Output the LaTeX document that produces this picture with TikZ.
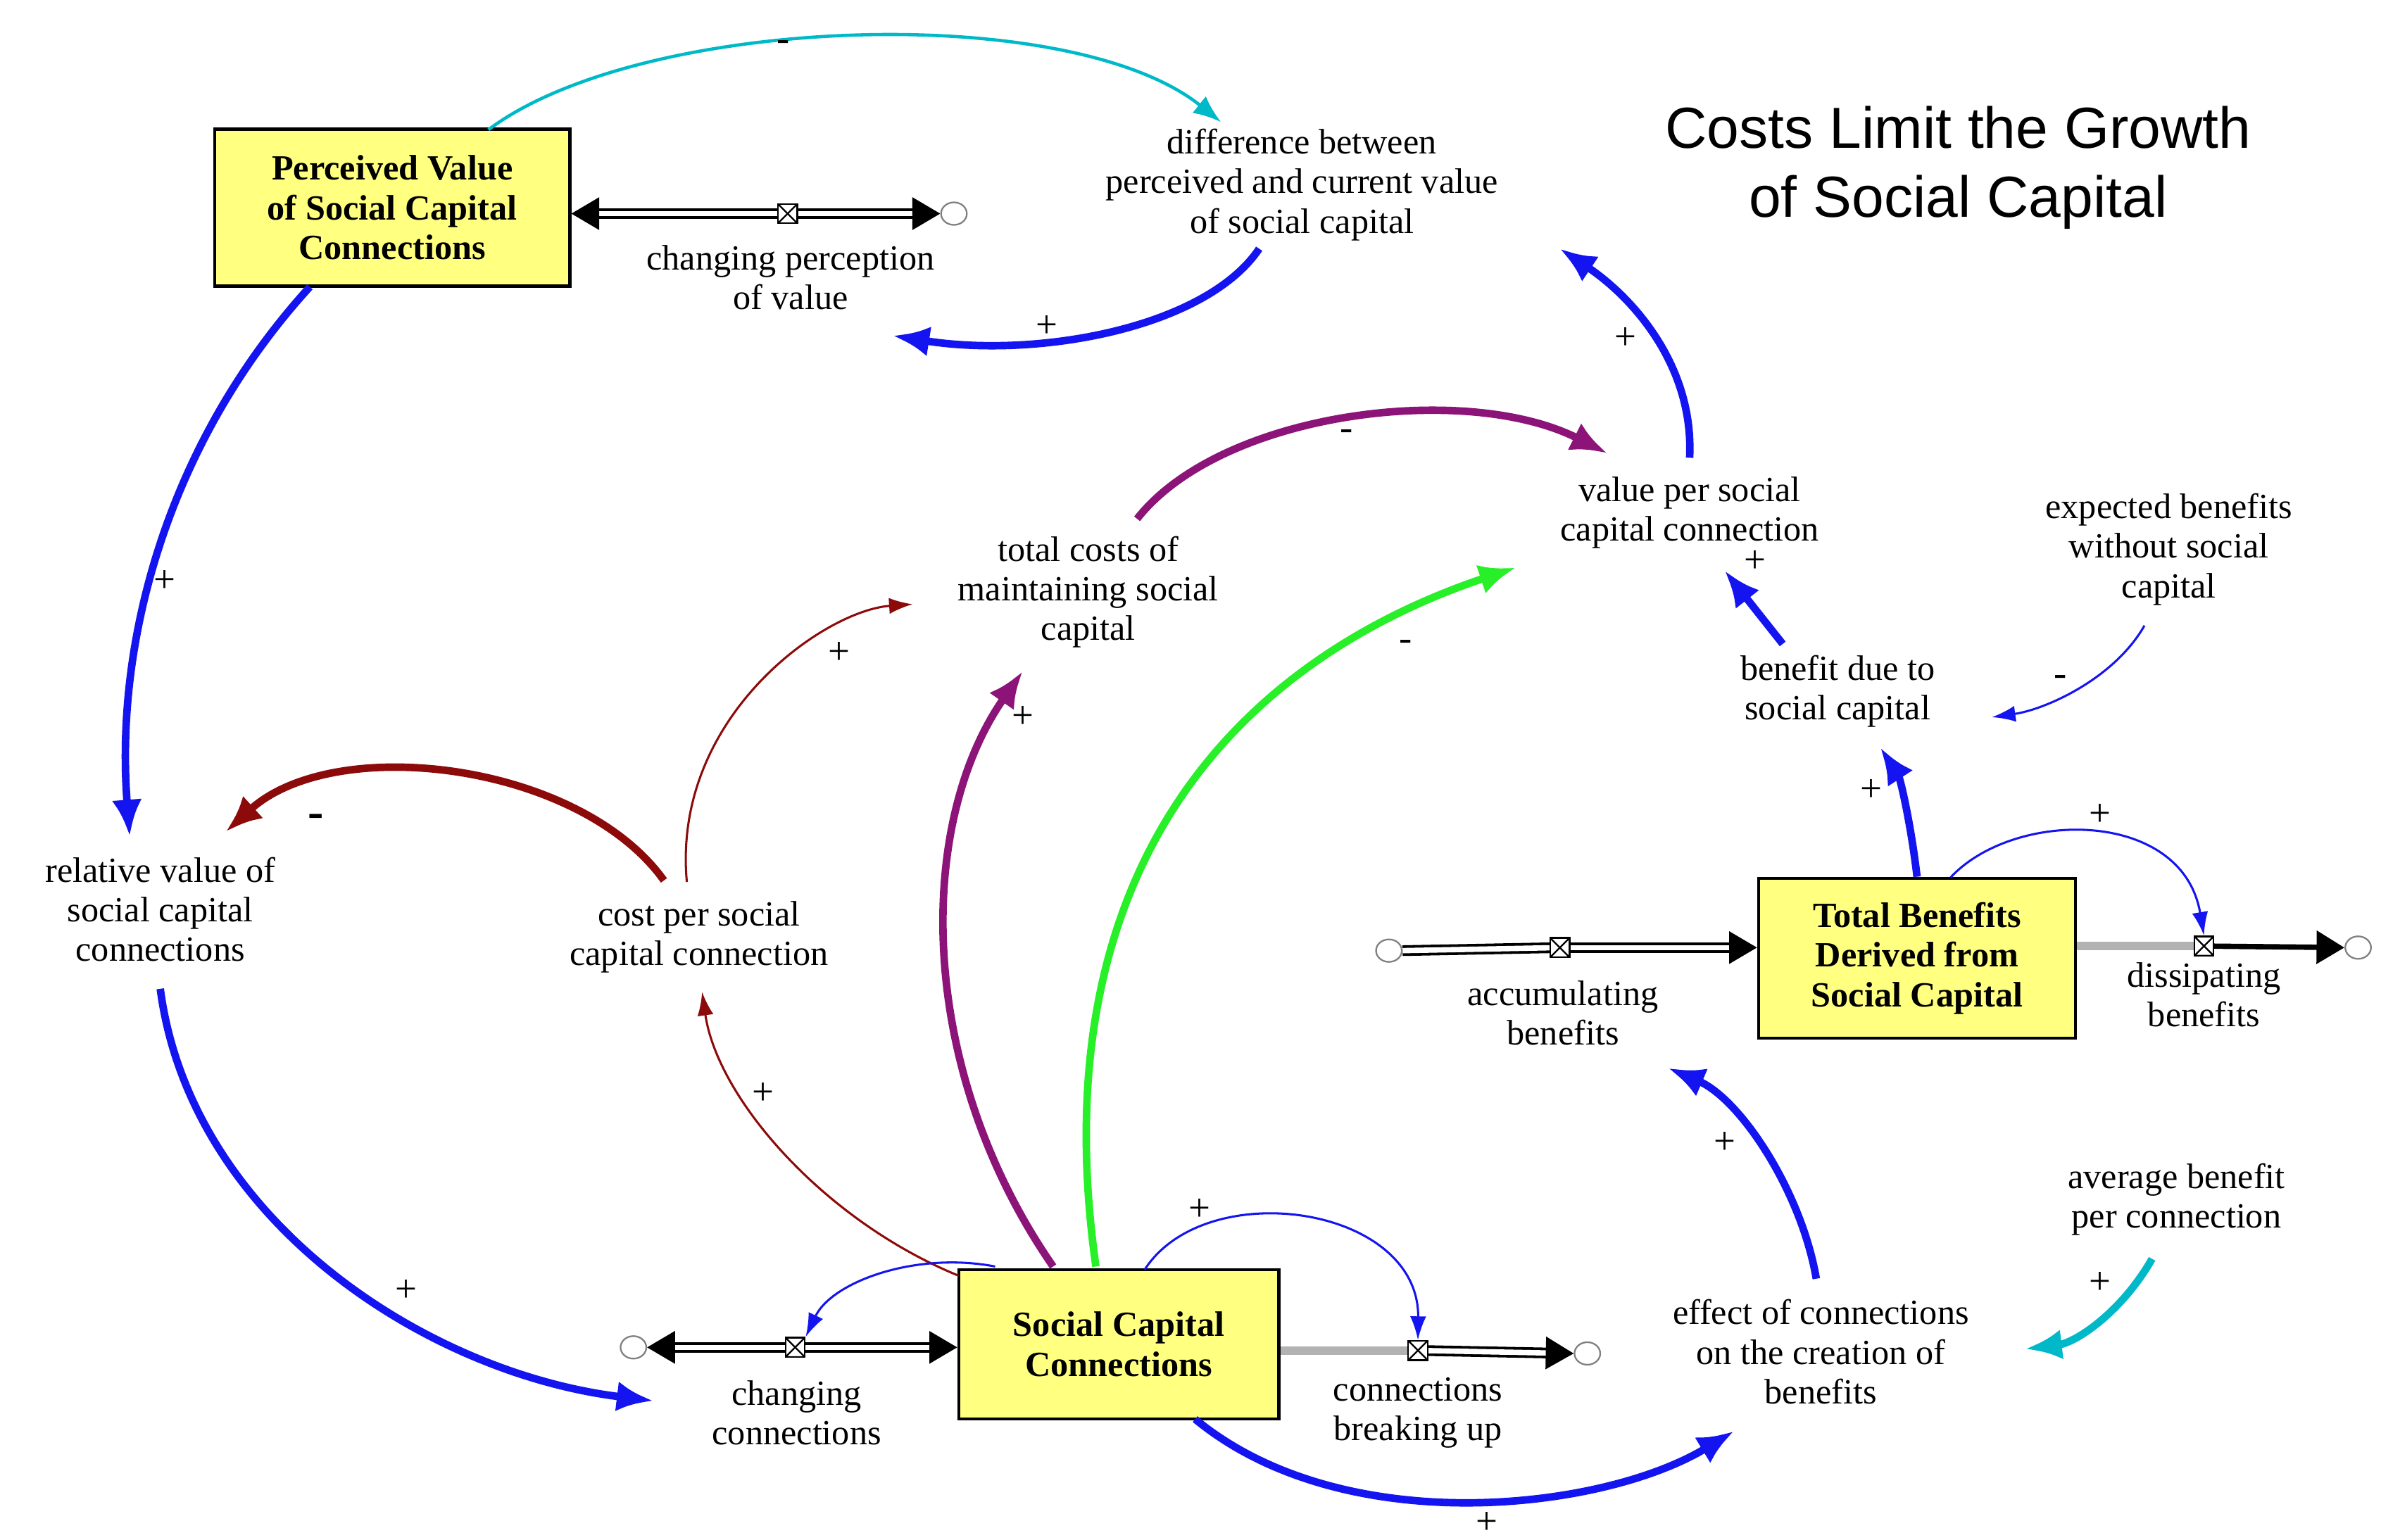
\documentclass[tikz,border=0pt]{standalone}
\usepackage{fontspec}
\setmainfont{Liberation Serif}
\newfontfamily\titlefont{Liberation Sans}
\usetikzlibrary{arrows.meta,calc,shapes.geometric}
\definecolor{lblue}{RGB}{20,20,240}
\definecolor{lcyan}{RGB}{0,185,200}
\definecolor{lpurple}{RGB}{140,20,120}
\definecolor{lred}{RGB}{140,10,10}
\definecolor{lgreen}{RGB}{40,240,40}
\definecolor{stockfill}{RGB}{255,255,128}
\begin{document}
\begin{tikzpicture}[x=0.05cm,y=-0.05cm,
  every node/.style={font=\fontsize{33}{37}\selectfont},
  lbl/.style={align=center,inner sep=0pt},
  stock/.style={draw,line width=3pt,fill=stockfill,align=center,font=\fontsize{33}{37}\selectfont\bfseries,inner sep=0pt},
  thick link/.style={line width=7pt,-{Latex[length=34pt,width=28pt]}},
  thin link/.style={line width=2pt,-{Latex[length=22pt,width=15pt]}},
  sgn/.style={font=\fontsize{36}{36}\selectfont},
  pipe/.style={draw=black,line width=2.5pt,double=white,double distance=5pt},
  pipearrow/.style={pipe,-{Triangle[length=26pt,width=30pt]}},
  cloud/.style={draw=gray,fill=white,ellipse,minimum width=24pt,minimum height=21pt,inner sep=0pt,line width=1.5pt},
  valve/.style={draw,fill=white,inner sep=0pt,minimum size=18pt,line width=1.5pt,
     path picture={\draw[line width=1.5pt] (path picture bounding box.north west)--(path picture bounding box.south east)--(path picture bounding box.south west)--(path picture bounding box.north east)--cycle;}},
]
\useasboundingbox (0,0) rectangle (1560,1008.8);
\fill[white] (0,0) rectangle (1560,1008.8);

% stocks
\node[stock,minimum width=233*1.42pt,minimum height=103*1.42pt] (pv) at (257,136) {Perceived Value\\of Social Capital\\Connections};
\node[stock,minimum width=208*1.42pt,minimum height=105*1.42pt] (tb) at (1256,628) {Total Benefits\\Derived from\\Social Capital};
\node[stock,minimum width=210*1.42pt,minimum height=98*1.42pt] (scc) at (733,881) {Social Capital\\Connections};

% title
\node[align=center,font=\fontsize{54}{64}\selectfont\titlefont] (title) at (1283,110) {Costs Limit the Growth\\of Social Capital};

% variables
\node[lbl] (diff) at (853,121) {difference between\\perceived and current value\\of social capital};
\node[lbl] (vpc) at (1107,336) {value per social\\capital connection};
\node[lbl] (exp) at (1421,360) {expected benefits\\without social\\capital};
\node[lbl] (tc) at (713,388) {total costs of\\maintaining social\\capital};
\node[lbl] (bd) at (1204,453) {benefit due to\\social capital};
\node[lbl] (rel) at (105,596) {relative value of\\social capital\\connections};
\node[lbl] (cpc) at (458,614) {cost per social\\capital connection};
\node[lbl] (avg) at (1426,786) {average benefit\\per connection};
\node[lbl] (eff) at (1193,886) {effect of connections\\on the creation of\\benefits};

% flows
\node[cloud] (c1) at (625,140) {};
\node[cloud] (c2) at (910,623) {};
\node[cloud] (c3) at (1545,621) {};
\node[cloud] (c4) at (415,883) {};
\node[cloud] (c5) at (1040,887) {};

\coordinate (v1) at (516,140);
\coordinate (v2) at (1022,621);
\coordinate (v3) at (1444,620);
\coordinate (v4) at (521,883);
\coordinate (v5) at (929,885);

\draw[pipearrow] (v1) -- (pv.east|-v1);
\draw[pipearrow] (v1) -- (c1.west);
\draw[pipe] (c2.east) -- (v2);
\draw[pipearrow] (v2) -- (tb.west|-v2);
\draw[gray!60,line width=8pt] (tb.east|-v3) -- (v3);
\draw[line width=5pt,-{Triangle[length=26pt,width=30pt]}] (v3) -- (c3.west);
\draw[pipearrow] (v4) -- (c4.east);
\draw[pipearrow] (v4) -- (scc.west|-v4);
\draw[gray!60,line width=8pt] (scc.east|-v5) -- (v5);
\draw[pipearrow] (v5) -- (c5.west);

\node[valve] (val1) at (v1) {};
\node[valve] (val2) at (v2) {};
\node[valve] (val3) at (v3) {};
\node[valve] (val4) at (v4) {};
\node[valve] (val5) at (v5) {};

\node[lbl] (f1) at (518,182) {changing perception\\of value};
\node[lbl] (f2) at (1024,664) {accumulating\\benefits};
\node[lbl] (f3) at (1444,652) {dissipating\\benefits};
\node[lbl] (f4) at (522,926) {changing\\connections};
\node[lbl] (f5) at (929,926) {connections\\breaking up};

% links
\draw[lcyan,line width=3pt,-{Latex[length=26pt,width=20pt]}] ($(pv)+(63,-51)$) .. controls (420,10) and (700,0) .. ($(diff)+(-53,-41)$);
\node[sgn] at (513,30) {-};
\draw[lblue,thick link] ($(diff)+(-28,42)$) .. controls (790,215) and (680,235) .. ($(f1)+(67,38)$);
\node[sgn] at (686,214) {+};
\draw[lblue,thick link] ($(vpc)+(0,-36)$) .. controls (1110,240) and (1070,195) .. ($(diff)+(169,42)$);
\node[sgn] at (1065,222) {+};
\draw[lpurple,thick link] ($(tc)+(32,-48)$) .. controls (800,270) and (960,250) .. ($(vpc)+(-54,-39)$);
\node[sgn] at (882,285) {-};
\draw[lblue,thick link] ($(bd)+(-36,-31)$) -- ($(vpc)+(23,38)$);
\node[sgn] at (1150,368) {+};
\draw[lblue,thin link] ($(exp)+(-16,50)$) .. controls (1385,445) and (1340,465) .. ($(bd)+(101,17)$);
\node[sgn] at (1350,446) {-};
\draw[lblue,thick link] (tb.north) .. controls (1252,540) and (1245,510) .. ($(bd)+(28,37)$);
\node[sgn] at (1226,518) {+};
\draw[lblue,thin link] ($(tb)+(22,-53)$) .. controls (1320,530) and (1430,530) .. (val3.north);
\node[sgn] at (1376,534) {+};
\draw[lblue,thick link] ($(pv)+(-54,52)$) .. controls (110,290) and (75,420) .. ($(rel)+(-20,-48)$);
\node[sgn] at (108,381) {+};
\draw[lred,thick link] ($(cpc)+(-23,-37)$) .. controls (380,500) and (220,480) .. ($(rel)+(43,-51)$);
\node[font=\fontsize{44}{44}\selectfont\bfseries] at (207,538) {-};
\draw[lred,thin link] ($(cpc)+(-8,-36)$) .. controls (440,470) and (540,400) .. ($(tc)+(-115,8)$);
\node[sgn] at (550,428) {+};
\draw[lpurple,thick link] ($(scc)+(-43,-51)$) .. controls (600,700) and (600,540) .. ($(tc)+(-43,52)$);
\node[sgn] at (670,470) {+};
\draw[lgreen,thick link] ($(scc)+(-15,-51)$) .. controls (680,560) and (820,430) .. ($(vpc)+(-114,36)$);
\node[sgn] at (921,423) {-};
\draw[lred,thin link] ($(scc)+(-105,-45)$) .. controls (540,800) and (470,720) .. ($(cpc)+(2,36)$);
\node[sgn] at (500,717) {+};
\draw[lblue,thin link] ($(scc)+(-81,-51)$) .. controls (600,820) and (545,840) .. (val4.north east);
\draw[lblue,thin link] ($(scc)+(17,-49)$) .. controls (790,770) and (930,790) .. (val5.north);
\node[sgn] at (786,793) {+};
\draw[lblue,thick link] ($(rel)+(0,52)$) .. controls (125,800) and (280,900) .. ($(f4)+(-94,-8)$);
\node[sgn] at (266,846) {+};
\draw[lblue,thick link] ($(scc)+(50,49)$) .. controls (880,1010) and (1050,990) .. ($(eff)+(-57,52)$);
\node[sgn] at (974,998) {+};
\draw[lblue,thick link] ($(eff)+(-3,-48)$) .. controls (1180,780) and (1140,720) .. ($(f2)+(69,36)$);
\node[sgn] at (1130,749) {+};
\draw[lcyan,thick link] ($(avg)+(-16,39)$) .. controls (1390,860) and (1360,880) .. ($(eff)+(134,-2)$);
\node[sgn] at (1376,841) {+};
\end{tikzpicture}
\end{document}
